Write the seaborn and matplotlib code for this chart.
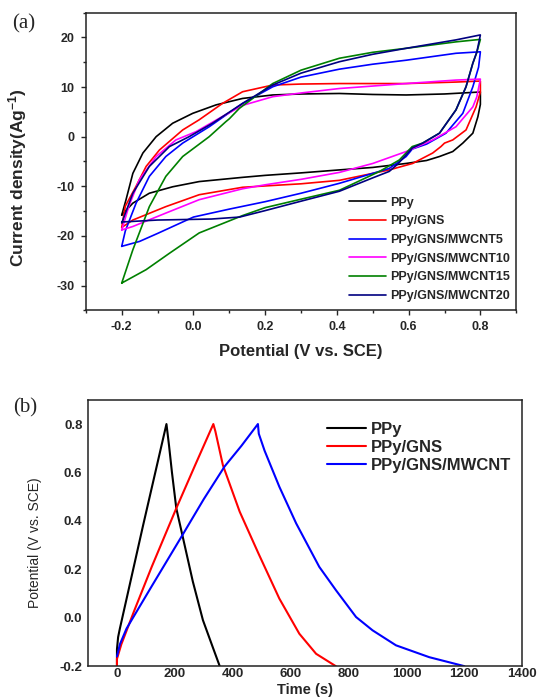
import matplotlib
matplotlib.use("Agg")
import matplotlib.pyplot as plt
from matplotlib.ticker import MultipleLocator
import seaborn as sns

sns.set_style("ticks")
plt.rcParams['font.family'] = ['Liberation Sans', 'DejaVu Sans']
plt.rcParams['mathtext.default'] = 'regular'

# ---------------- (a) cyclic voltammetry ----------------
cv_names = ["PPy", "PPy/GNS", "PPy/GNS/MWCNT5", "PPy/GNS/MWCNT10",
            "PPy/GNS/MWCNT15", "PPy/GNS/MWCNT20"]
cv_colors = ["#000000", "#ff0000", "#0000ff", "#ff00ff", "#008000", "#000080"]

# PPy
ppy_v = [-0.2, -0.188, -0.169, -0.141, -0.104, -0.058, -0.002, 0.063, 0.137, 0.221, 0.3, 0.407, 0.5, 0.593, 0.7, 0.8,
         0.8, 0.793, 0.779, 0.751, 0.723, 0.686, 0.65, 0.593, 0.5, 0.407, 0.3, 0.2, 0.137, 0.016, -0.058, -0.123, -0.169, -0.2]
ppy_i = [-15.8, -12.7, -7.4, -3.3, 0.0, 2.7, 4.7, 6.4, 7.7, 8.4, 8.6, 8.7, 8.5, 8.4, 8.6, 9.0,
         6.5, 4.0, 0.7, -1.3, -3.0, -4.0, -4.8, -5.4, -6.2, -6.7, -7.3, -7.8, -8.2, -9.05, -10.1, -11.4, -13.4, -15.8]
# PPy/GNS
gns_v = [-0.2, -0.19, -0.16, -0.132, -0.095, -0.03, 0.016, 0.081, 0.137, 0.221, 0.3, 0.407, 0.5, 0.593, 0.732, 0.8,
         0.8, 0.788, 0.76, 0.723, 0.7, 0.69, 0.667, 0.611, 0.546, 0.407, 0.3, 0.137, 0.016, -0.077, -0.169, -0.2]
gns_i = [-18.3, -14.0, -10.0, -6.0, -2.7, 1.35, 3.4, 6.7, 9.05, 10.4, 10.6, 10.7, 10.7, 10.7, 11.0, 11.2,
         9.0, 6.0, 1.35, -0.66, -1.3, -2.0, -3.3, -5.4, -6.7, -8.8, -9.5, -10.2, -11.7, -14.1, -16.8, -18.3]
# PPy/GNS/MWCNT5
m5_v = [-0.2, -0.19, -0.16, -0.123, -0.077, -0.03, 0.044, 0.137, 0.221, 0.3, 0.407, 0.5, 0.593, 0.732, 0.8,
        0.8, 0.795, 0.779, 0.751, 0.704, 0.65, 0.61, 0.593, 0.546, 0.407, 0.3, 0.2, 0.1, 0.0, -0.1, -0.15, -0.2]
m5_i = [-22.1, -19.0, -13.4, -8.0, -4.0, -1.3, 2.0, 6.7, 10.05, 12.0, 13.6, 14.6, 15.4, 16.8, 17.1,
        17.1, 14.0, 10.05, 4.7, 0.7, -1.5, -2.5, -4.0, -6.4, -9.4, -11.4, -13.1, -14.6, -16.2, -19.5, -21.1, -22.1]
# PPy/GNS/MWCNT10
m10_v = [-0.2, -0.18, -0.151, -0.104, -0.049, 0.007, 0.072, 0.137, 0.221, 0.3, 0.407, 0.5, 0.593, 0.732, 0.8,
         0.8, 0.79, 0.779, 0.732, 0.667, 0.593, 0.5, 0.407, 0.3, 0.2, 0.137, 0.016, -0.077, -0.169, -0.2]
m10_i = [-18.8, -14.0, -8.7, -4.0, -0.66, 1.0, 3.7, 6.3, 8.05, 8.8, 9.7, 10.2, 10.7, 11.4, 11.6,
         11.6, 8.0, 6.0, 2.0, -0.66, -3.0, -5.4, -7.2, -8.6, -9.7, -10.5, -12.7, -15.4, -18.1, -18.8]
# PPy/GNS/MWCNT15
m15_v = [-0.2, -0.169, -0.123, -0.077, -0.03, 0.044, 0.09, 0.1, 0.128, 0.221, 0.3, 0.407, 0.5, 0.593, 0.732, 0.8,
         0.8, 0.79, 0.779, 0.76, 0.732, 0.686, 0.639, 0.61, 0.574, 0.519, 0.407, 0.3, 0.2, 0.137, 0.016, -0.067, -0.132, -0.2]
m15_i = [-29.5, -22.8, -14.1, -8.0, -4.0, 0.0, 3.0, 3.6, 5.7, 10.7, 13.4, 15.8, 17.0, 17.8, 19.1, 19.6,
         19.6, 17.0, 14.8, 10.05, 5.4, 0.7, -1.3, -2.0, -4.7, -7.0, -10.8, -12.6, -14.3, -15.9, -19.4, -23.5, -26.8, -29.5]
# PPy/GNS/MWCNT20
m20_v = [-0.2, -0.169, -0.123, -0.067, -0.012, 0.053, 0.137, 0.221, 0.3, 0.407, 0.5, 0.593, 0.732, 0.8,
         0.8, 0.79, 0.779, 0.76, 0.732, 0.686, 0.639, 0.61, 0.57, 0.546, 0.5, 0.407, 0.3, 0.2, 0.129, 0.05, -0.1, -0.2]
m20_i = [-17.4, -11.4, -6.0, -2.0, 0.0, 2.7, 6.7, 10.4, 12.8, 15.1, 16.6, 17.8, 19.5, 20.5,
         20.5, 17.0, 14.8, 10.05, 5.4, 0.7, -1.3, -2.3, -5.5, -7.0, -8.3, -11.0, -13.0, -14.9, -16.2, -16.6, -16.8, -17.2]

cv_v = [ppy_v, gns_v, m5_v, m10_v, m15_v, m20_v]
cv_i = [ppy_i, gns_i, m5_i, m10_i, m15_i, m20_i]

# ---------------- (b) galvanostatic charge/discharge ----------------
gcd_names = ["PPy", "PPy/GNS", "PPy/GNS/MWCNT"]
gcd_colors = ["#000000", "#ff0000", "#0000ff"]
ppy_t = [0, 0, 4, 10, 90, 171, 180, 190, 205, 226, 262, 297, 332, 355]
ppy_e = [-0.2, -0.13, -0.08, -0.045, 0.38, 0.8, 0.71, 0.6, 0.452, 0.341, 0.15, -0.01, -0.125, -0.2]
gns_t = [0, 0, 15, 60, 120, 205, 270, 333, 340, 366, 424, 489, 561, 630, 688, 756]
gns_e = [-0.2, -0.17, -0.11, 0.03, 0.21, 0.452, 0.63, 0.8, 0.77, 0.63, 0.438, 0.265, 0.079, -0.066, -0.149, -0.2]
mw_t = [0, 10, 33, 120, 226, 300, 372, 430, 487, 490, 510, 561, 619, 699, 757, 826, 883, 964, 1079, 1200]
mw_e = [-0.16, -0.11, -0.045, 0.13, 0.341, 0.49, 0.625, 0.71, 0.8, 0.76, 0.69, 0.541, 0.39, 0.21, 0.113, 0.003, -0.052, -0.114, -0.163, -0.2]
gcd_t = [ppy_t, gns_t, mw_t]
gcd_e = [ppy_e, gns_e, mw_e]

fig = plt.figure(figsize=(5.4, 6.99), dpi=100)
ax1 = fig.add_axes([0.159, 0.556, 0.797, 0.426])
ax2 = fig.add_axes([0.163, 0.047, 0.804, 0.381])

for v, i, c, n in zip(cv_v, cv_i, cv_colors, cv_names):
    sns.lineplot(x=v, y=i, ax=ax1, color=c, label=n, sort=False, estimator=None, linewidth=1.2)

ax1.set_xlim(-0.3, 0.9)
ax1.set_ylim(-35, 25)
ax1.xaxis.set_minor_locator(MultipleLocator(0.1))
ax1.yaxis.set_minor_locator(MultipleLocator(5))
ax1.set_xticks([-0.2, 0.0, 0.2, 0.4, 0.6, 0.8])
ax1.set_xticklabels(["-0.2", "0.0", "0.2", "0.4", "0.6", "0.8"])
ax1.set_yticks([-30, -20, -10, 0, 10, 20])
ax1.set_yticklabels(["-30", "-20", "-10", "0", "10", "20"])
ax1.tick_params(which='major', direction='out', length=3.5, width=1.0, labelsize=9, pad=4.5)
ax1.tick_params(which='minor', direction='out', length=2.5, width=1.0)
for lab in ax1.get_xticklabels() + ax1.get_yticklabels():
    lab.set_fontweight('bold')
ax1.set_xlabel("Potential (V vs. SCE)", fontsize=12, fontweight='bold')
ax1.set_ylabel("Current density(Ag$^{-1}$)", fontsize=12.5, fontweight='bold')
ax1.yaxis.set_label_coords(-0.133, 0.445)
ax1.xaxis.set_label_coords(0.5, -0.113)
for s in ax1.spines.values():
    s.set_linewidth(1.1)
    s.set_color('#222222')
ax1.legend(loc='upper left', bbox_to_anchor=(0.585, 0.419), frameon=False,
           prop={'weight': 'bold', 'size': 9}, handlelength=3.0,
           handletextpad=0.3, labelspacing=0.53, borderpad=0.4)

for t, e, c, n in zip(gcd_t, gcd_e, gcd_colors, gcd_names):
    sns.lineplot(x=t, y=e, ax=ax2, color=c, label=n, sort=False, estimator=None, linewidth=1.5)

ax2.set_xlim(-100, 1400)
ax2.set_ylim(-0.2, 0.9)
ax2.set_xticks([0, 200, 400, 600, 800, 1000, 1200, 1400])
ax2.set_xticklabels(["0", "200", "400", "600", "800", "1000", "1200", "1400"])
ax2.set_yticks([-0.2, 0.0, 0.2, 0.4, 0.6, 0.8])
ax2.set_yticklabels(["-0.2", "0.0", "0.2", "0.4", "0.6", "0.8"])
ax2.tick_params(which='both', length=0, labelsize=9.5, pad=4)
ax2.tick_params(axis='x', pad=1)
for lab in ax2.get_xticklabels() + ax2.get_yticklabels():
    lab.set_fontweight('bold')
ax2.set_xlabel("Time (s)", fontsize=10.5, fontweight='bold')
ax2.set_ylabel("Potential (V vs. SCE)", fontsize=10)
ax2.yaxis.set_label_coords(-0.107, 0.462)
ax2.xaxis.set_label_coords(0.5, -0.064)
for s in ax2.spines.values():
    s.set_linewidth(1.1)
    s.set_color('#222222')
ax2.legend(loc='upper left', bbox_to_anchor=(0.517, 0.972), frameon=False,
           prop={'weight': 'bold', 'size': 12}, handlelength=2.3,
           handletextpad=0.28, labelspacing=0.18, borderpad=0.4)

fig.text(24 / 540, 1 - 24 / 699, "(a)", ha='center', va='center', fontsize=15,
         family=['Liberation Serif', 'DejaVu Serif'])
fig.text(25 / 540, 1 - 408 / 699, "(b)", ha='center', va='center', fontsize=15,
         family=['Liberation Serif', 'DejaVu Serif'])

fig.savefig("out.png", dpi=100)
